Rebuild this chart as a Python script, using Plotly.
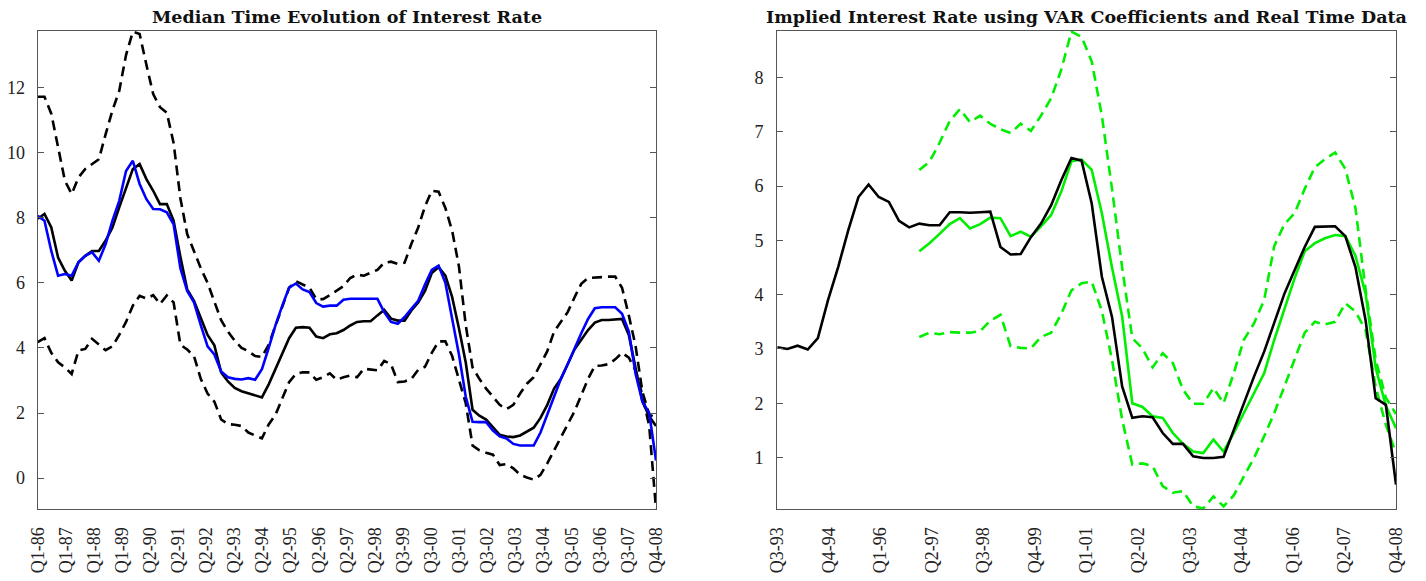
import numpy as np
import plotly.graph_objects as go

# --- left panel: quarterly, Q1-86 .. Q4-08 (92 quarters) ---
left_ticks = ["Q1-86", "Q1-87", "Q1-88", "Q1-89", "Q2-90", "Q2-91", "Q2-92", "Q2-93",
              "Q2-94", "Q2-95", "Q2-96", "Q2-97", "Q2-98", "Q3-99", "Q3-00", "Q3-01",
              "Q3-02", "Q3-03", "Q3-04", "Q3-05", "Q3-06", "Q3-07", "Q4-08"]

median_rate = [7.97, 8.12, 7.7, 6.78, 6.37, 6.07, 6.63, 6.83, 6.98, 6.98,
               7.3, 7.7, 8.32, 8.93, 9.5, 9.65, 9.19, 8.83, 8.42, 8.42,
               7.91, 6.8, 5.8, 5.45, 4.9, 4.4, 4.08, 3.25, 2.97, 2.77,
               2.67, 2.6, 2.54, 2.48, 2.88, 3.35, 3.85, 4.3, 4.62, 4.64,
               4.62, 4.35, 4.3, 4.42, 4.45, 4.55, 4.69, 4.8, 4.82, 4.82,
               5.0, 5.17, 4.9, 4.84, 4.84, 5.15, 5.4, 5.75, 6.3, 6.48,
               6.22, 5.56, 4.6, 3.55, 2.1, 1.92, 1.8, 1.55, 1.33, 1.28,
               1.26, 1.31, 1.42, 1.55, 1.85, 2.25, 2.75, 3.05, 3.5, 3.95,
               4.25, 4.55, 4.78, 4.86, 4.86, 4.87, 4.89, 4.4, 3.4, 2.35,
               1.9, 1.6]

actual_rate = [8.06, 7.91, 6.98, 6.22, 6.27, 6.22, 6.63, 6.83, 6.94, 6.68,
               7.19, 7.91, 8.52, 9.44, 9.75, 9.04, 8.57, 8.27, 8.26, 8.17,
               7.8, 6.45, 5.75, 5.4, 4.7, 4.05, 3.8, 3.28, 3.1, 3.05,
               3.03, 3.07, 3.02, 3.35, 4.0, 4.7, 5.3, 5.85, 5.98, 5.8,
               5.72, 5.38, 5.27, 5.3, 5.3, 5.48, 5.51, 5.51, 5.51, 5.51,
               5.51, 5.1, 4.8, 4.74, 4.95, 5.2, 5.45, 5.95, 6.4, 6.53,
               6.0, 4.9, 3.8, 2.5, 1.73, 1.72, 1.72, 1.46, 1.28, 1.22,
               1.05, 1.0, 1.0, 1.0, 1.4, 1.95, 2.55, 3.05, 3.5, 4.0,
               4.45, 4.89, 5.22, 5.25, 5.25, 5.25, 5.05, 4.5, 3.2, 2.35,
               2.0, 0.54]

upper_band = [11.72, 11.72, 11.2, 10.16, 9.14, 8.73, 9.24, 9.5, 9.65, 9.8,
              10.57, 11.3, 11.9, 13.0, 13.72, 13.65, 12.7, 11.8, 11.4, 11.23,
              10.3, 8.6, 7.5, 6.95, 6.45, 6.0, 5.4, 4.85, 4.5, 4.22,
              4.0, 3.9, 3.75, 3.72, 4.1, 4.7, 5.25, 5.85, 6.05, 5.95,
              5.85, 5.5, 5.5, 5.62, 5.75, 5.9, 6.15, 6.25, 6.22, 6.3,
              6.4, 6.62, 6.65, 6.58, 6.62, 7.2, 7.7, 8.35, 8.83, 8.8,
              8.3, 7.6, 6.5, 4.7, 3.4, 3.05, 2.75, 2.5, 2.25, 2.12,
              2.25, 2.6, 2.9, 3.1, 3.5, 3.9, 4.5, 4.8, 5.1, 5.55,
              5.97, 6.15, 6.17, 6.19, 6.19, 6.19, 5.85, 5.0, 4.05, 2.65,
              1.95, 1.85]

lower_band = [4.18, 4.3, 3.85, 3.56, 3.4, 3.2, 3.92, 3.97, 4.28, 4.1,
              3.93, 4.05, 4.4, 4.8, 5.3, 5.6, 5.52, 5.62, 5.35, 5.61,
              5.4, 4.1, 3.95, 3.75, 3.05, 2.6, 2.35, 1.8, 1.66, 1.64,
              1.6, 1.4, 1.3, 1.22, 1.65, 1.95, 2.45, 2.95, 3.2, 3.25,
              3.25, 3.02, 3.1, 3.22, 3.02, 3.1, 3.15, 3.1, 3.36, 3.33,
              3.31, 3.6, 3.5, 2.95, 2.97, 3.05, 3.33, 3.42, 3.85, 4.2,
              4.2, 3.75, 3.0, 2.3, 1.0, 0.85, 0.78, 0.72, 0.4, 0.43,
              0.3, 0.1, 0.02, -0.05, 0.1, 0.45, 0.85, 1.25, 1.65, 2.05,
              2.55, 3.05, 3.45, 3.46, 3.5, 3.65, 3.85, 3.7, 3.3, 2.55,
              1.6, -0.95]

# --- right panel: quarterly, Q3-93 .. Q4-08 (62 quarters) ---
right_ticks = ["Q3-93", "Q4-94", "Q1-96", "Q2-97", "Q3-98", "Q4-99", "Q1-01",
               "Q2-02", "Q3-03", "Q4-04", "Q1-06", "Q2-07", "Q4-08"]

real_time_rate = [3.03, 3.0, 3.06, 2.99, 3.2, 3.9, 4.51, 5.19, 5.8, 6.03,
                  5.8, 5.71, 5.36, 5.24, 5.31, 5.28, 5.28, 5.52, 5.52, 5.51,
                  5.52, 5.53, 4.88, 4.74, 4.75, 5.06, 5.31, 5.65, 6.11, 6.52,
                  6.47, 5.68, 4.33, 3.59, 2.31, 1.73, 1.76, 1.74, 1.45, 1.25,
                  1.25, 1.02, 0.99, 0.99, 1.01, 1.51, 2.0, 2.49, 2.95, 3.47,
                  4.02, 4.45, 4.88, 5.25, 5.25, 5.26, 5.08, 4.51, 3.53, 2.09,
                  1.97, 0.5]

gap = [None] * 14  # implied series start in Q1-97
implied_rate = gap + [4.8, 4.95, 5.12, 5.3, 5.41, 5.22, 5.3, 5.42, 5.41, 5.08,
                      5.16, 5.07, 5.26, 5.47, 5.9, 6.46, 6.49, 6.3, 5.5, 4.5,
                      3.6, 2.0, 1.93, 1.76, 1.73, 1.45, 1.25, 1.11, 1.08, 1.33,
                      1.11, 1.45, 1.82, 2.19, 2.55, 3.17, 3.72, 4.3, 4.8, 4.95,
                      5.04, 5.1, 5.08, 4.72, 4.02, 2.65, 1.95, 1.54]
implied_upper = gap + [6.3, 6.45, 6.8, 7.2, 7.42, 7.18, 7.3, 7.15, 7.05, 6.98,
                       7.15, 7.02, 7.3, 7.62, 8.15, 8.85, 8.75, 8.3, 7.3, 5.95,
                       4.5, 3.2, 3.01, 2.66, 2.92, 2.74, 2.25, 1.99, 1.99, 2.28,
                       2.0, 2.55, 3.17, 3.47, 3.9, 4.9, 5.3, 5.5, 5.95, 6.35,
                       6.5, 6.62, 6.32, 5.6, 4.1, 2.8, 2.1, 1.8]
implied_lower = gap + [3.22, 3.3, 3.27, 3.31, 3.3, 3.3, 3.33, 3.52, 3.63, 3.05,
                       3.02, 3.01, 3.22, 3.3, 3.65, 4.08, 4.21, 4.24, 3.7, 2.8,
                       1.7, 0.87, 0.89, 0.84, 0.47, 0.35, 0.38, 0.1, 0.06, 0.28,
                       0.1, 0.3, 0.65, 0.99, 1.39, 1.82, 2.31, 2.8, 3.3, 3.5,
                       3.45, 3.5, 3.84, 3.69, 3.35, 2.3, 1.6, 1.08]

xl = list(range(len(median_rate)))
xr = list(range(len(real_time_rate)))

DASH = "10px,6px"
LW = 2.6

fig = go.Figure()

# left panel
fig.add_trace(go.Scatter(x=xl, y=upper_band, mode="lines",
                         line=dict(color="black", width=LW, dash=DASH), xaxis="x", yaxis="y"))
fig.add_trace(go.Scatter(x=xl, y=lower_band, mode="lines",
                         line=dict(color="black", width=LW, dash=DASH), xaxis="x", yaxis="y"))
fig.add_trace(go.Scatter(x=xl, y=median_rate, mode="lines",
                         line=dict(color="black", width=LW), xaxis="x", yaxis="y"))
fig.add_trace(go.Scatter(x=xl, y=actual_rate, mode="lines",
                         line=dict(color="#0000ff", width=LW), xaxis="x", yaxis="y"))

# right panel
fig.add_trace(go.Scatter(x=xr, y=implied_upper, mode="lines",
                         line=dict(color="#00ee00", width=LW, dash=DASH), xaxis="x2", yaxis="y2"))
fig.add_trace(go.Scatter(x=xr, y=implied_lower, mode="lines",
                         line=dict(color="#00ee00", width=LW, dash=DASH), xaxis="x2", yaxis="y2"))
fig.add_trace(go.Scatter(x=xr, y=implied_rate, mode="lines",
                         line=dict(color="#00ee00", width=LW), xaxis="x2", yaxis="y2"))
fig.add_trace(go.Scatter(x=xr, y=real_time_rate, mode="lines",
                         line=dict(color="black", width=LW), xaxis="x2", yaxis="y2"))

# page has an 8px body margin, so the figure is 8px smaller and offsets shift by 8
W, H = 1418, 573
OFF = 8
px = lambda x: (x - OFF) / W
py = lambda y: 1 - (y - OFF) / H

tick_font = dict(family="Liberation Serif", size=18, color="#222")
axis_common = dict(showgrid=False, zeroline=False, showline=True, linecolor="#555",
                   linewidth=1.2, tickfont=tick_font, automargin=False)

fig.update_layout(
    width=W, height=H,
    margin=dict(l=0, r=0, t=0, b=0),
    paper_bgcolor="white", plot_bgcolor="white",
    showlegend=False,
    xaxis=dict(axis_common, domain=[px(37.7), px(656)], range=[0, len(xl) - 1],
               tickvals=np.linspace(0, len(xl) - 1, len(left_ticks)), ticktext=left_ticks,
               tickangle=-90, ticks="", mirror=True, ticklabelstandoff=10, anchor="y"),
    yaxis=dict(axis_common, domain=[py(509), py(31)], range=[-0.95, 13.74],
               tickvals=[0, 2, 4, 6, 8, 10, 12], ticks="inside", ticklen=6,
               tickcolor="#555", mirror="ticks", ticklabelstandoff=8, anchor="x"),
    xaxis2=dict(axis_common, domain=[px(777.3), px(1396)], range=[0, len(xr) - 1],
                tickvals=np.linspace(0, len(xr) - 1, len(right_ticks)), ticktext=right_ticks,
                tickangle=-90, ticks="", mirror=True, ticklabelstandoff=10, anchor="y2"),
    yaxis2=dict(axis_common, domain=[py(509), py(31)], range=[0.05, 8.86],
                tickvals=[1, 2, 3, 4, 5, 6, 7, 8], ticks="inside", ticklen=6,
                tickcolor="#555", mirror="ticks", ticklabelstandoff=9, anchor="x2"),
)

title_font = dict(family="DejaVu Serif", size=17.5, color="#111")
fig.add_annotation(text="<b>Median Time Evolution of Interest Rate</b>", xref="paper", yref="paper",
                   x=px((37.7 + 656) / 2), y=py(17), showarrow=False, font=title_font,
                   xanchor="center", yanchor="middle")
fig.add_annotation(text="<b>Implied Interest Rate using VAR Coefficients and Real Time Data</b>",
                   xref="paper", yref="paper", x=px((777.3 + 1396) / 2), y=py(17),
                   showarrow=False, font=title_font, xanchor="center", yanchor="middle")

fig.write_html("out.html")
